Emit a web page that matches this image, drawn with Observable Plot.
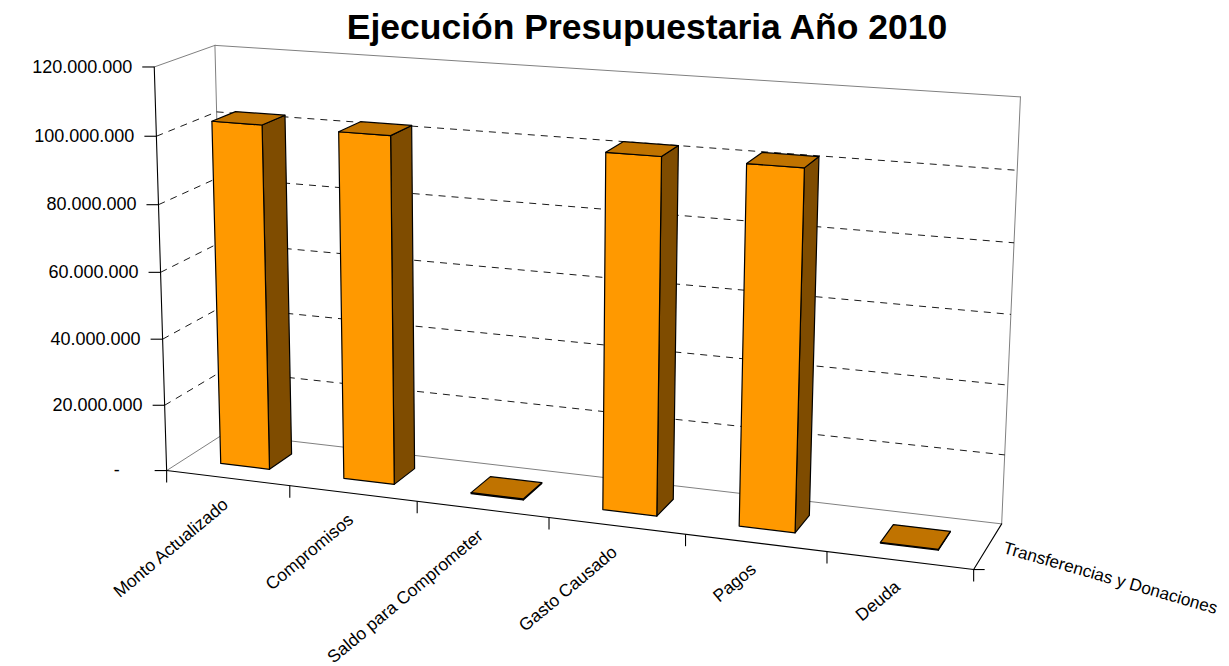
<!DOCTYPE html>
<html>
<head>
<meta charset="utf-8">
<script src="https://cdn.jsdelivr.net/npm/d3@7"></script>
<script src="https://cdn.jsdelivr.net/npm/@observablehq/plot@0.6"></script>
<style>
  body { margin: 0; background: #fff; }
  #chart svg { display: block; }
</style>
</head>
<body>
<div id="chart"></div>
<script>
// ---------------- data ----------------
const title = "Ejecución Presupuestaria Año 2010";
const seriesName = "Transferencias y Donaciones";
const categories = ["Monto Actualizado", "Compromisos", "Saldo para Comprometer", "Gasto Causado", "Pagos", "Deuda"];
const values = [103000000, 102700000, 300000, 102500000, 102300000, 200000];
const yTicks = [0, 20000000, 40000000, 60000000, 80000000, 100000000, 120000000];
const yTickLabels = ["-", "20.000.000", "40.000.000", "60.000.000", "80.000.000", "100.000.000", "120.000.000"];

// ---------------- scales (normalised box coordinates) ----------------
const xScale = Plot.scale({x: {type: "band", domain: categories, range: [0, 1], paddingInner: 0.6, paddingOuter: 0.3, align: 0.5}});
const yScale = Plot.scale({y: {type: "linear", domain: [0, 120000000], range: [0, 1]}});
const step = 1 / categories.length;
const depthRange = [0.3, 0.7]; // bar depth inside the series row

// ---------------- 3D perspective projection of the box ----------------
// calibration: box point (u, v, w) -> screen position of the chart frame
const calib = [
  [0, 0, 0, 168, 468], [1, 0, 0, 972, 572], [0, 0, 1, 221, 437], [1, 0, 1, 1002, 518],
  [0, 1, 0, 152, 67], [0, 1, 1, 217, 45], [1, 1, 1, 1020, 97],
  [1/6, 0, 0, 291, 484], [2/6, 0, 0, 416, 500], [3/6, 0, 0, 548, 517], [4/6, 0, 0, 685, 535], [5/6, 0, 0, 827, 553],
  [0, 1/6, 0, 165, 405], [0, 2/6, 0, 163, 338], [0, 3/6, 0, 160, 271], [0, 4/6, 0, 157, 203], [0, 5/6, 0, 155, 136]
];
const NX = 600, NY = 330, NS = 500;
function fitProjective(pts) {
  const n = 11;
  const M = Array.from({length: n}, () => new Array(n + 1).fill(0));
  const add = (row, b) => {
    for (let i = 0; i < n; i++) {
      for (let j = 0; j < n; j++) M[i][j] += row[i] * row[j];
      M[i][n] += row[i] * b;
    }
  };
  for (const [u, v, w, X0, Y0] of pts) {
    const X = (X0 - NX) / NS, Y = (Y0 - NY) / NS;
    add([u, v, w, 1, 0, 0, 0, 0, -X * u, -X * v, -X * w], X);
    add([0, 0, 0, 0, u, v, w, 1, -Y * u, -Y * v, -Y * w], Y);
  }
  for (let c = 0; c < n; c++) {
    let piv = c;
    for (let r = c + 1; r < n; r++) if (Math.abs(M[r][c]) > Math.abs(M[piv][c])) piv = r;
    [M[c], M[piv]] = [M[piv], M[c]];
    for (let r = 0; r < n; r++) {
      if (r === c) continue;
      const f = M[r][c] / M[c][c];
      for (let k = c; k <= n; k++) M[r][k] -= f * M[c][k];
    }
  }
  return M.map((row, i) => row[n] / row[i]);
}
const P = fitProjective(calib);
function project3(u, v, w) {
  const d = P[8] * u + P[9] * v + P[10] * w + 1;
  return [
    ((P[0] * u + P[1] * v + P[2] * w + P[3]) / d) * NS + NX,
    ((P[4] * u + P[5] * v + P[6] * w + P[7]) / d) * NS + NY
  ];
}
const projection = d3.geoTransform({
  point(x, y, z) {
    const [X, Y] = project3(x, y, z === undefined ? 0 : z);
    this.stream.point(X, Y);
  }
});

// ---------------- geometry built from the data ----------------
const line = (a, b) => ({type: "LineString", coordinates: [a, b]});
const poly = (pts) => ({type: "Polygon", coordinates: [[...pts, pts[0]]]});

const wallLines = [
  line([0, 0, 0], [0, 0, 1]), line([0, 0, 1], [0, 1, 1]), line([0, 1, 0], [0, 1, 1]),
  line([0, 0, 1], [1, 0, 1]), line([0, 1, 1], [1, 1, 1]), line([1, 0, 1], [1, 1, 1])
];
const gridLines = yTicks.slice(1, -1).flatMap((t) => {
  const v = yScale.apply(t);
  return [line([0, v, 0], [0, v, 1]), line([0, v, 1], [1, v, 1])];
});
const axisLines = [line([0, 0, 0], [0, 1, 0]), line([0, 0, 0], [1, 0, 0]), line([1, 0, 0], [1, 0, 1])];

const [w0, w1] = depthRange;
const fronts = [], tops = [], sides = [];
categories.forEach((c, i) => {
  const u0 = xScale.apply(c), u1 = u0 + xScale.bandwidth, v = yScale.apply(values[i]);
  fronts.push(poly([[u0, 0, w0], [u1, 0, w0], [u1, v, w0], [u0, v, w0]]));
  sides.push(poly([[u1, 0, w0], [u1, 0, w1], [u1, v, w1], [u1, v, w0]]));
  tops.push(poly([[u0, v, w0], [u1, v, w0], [u1, v, w1], [u0, v, w1]]));
});

const catTicks = d3.range(categories.length + 1).map((i) => i * step);
const catCenters = categories.map((c) => ({label: c, u: xScale.apply(c) + xScale.bandwidth / 2}));
const yLab = yTicks.map((t, i) => ({v: yScale.apply(t), label: yTickLabels[i], zero: t === 0}));

// tick symbols
const tickLeft = {draw(ctx) { ctx.moveTo(-12, 0); ctx.lineTo(0, 0); }};
const tickDown = {draw(ctx) { ctx.moveTo(0, 0); ctx.lineTo(0, 12); }};
const tickRight = {draw(ctx) { ctx.moveTo(0, 0); ctx.lineTo(11, 0); }};

const font = "'Liberation Sans', Arial, sans-serif";

const chart = Plot.plot({
  width: 1229,
  height: 666,
  margin: 0,
  projection,
  x: {axis: null},
  y: {axis: null},
  style: {fontFamily: font, background: "#fff", color: "black"},
  marks: [
    Plot.geo(wallLines, {stroke: "#808080", strokeWidth: 1, fill: "none"}),
    Plot.geo(gridLines, {stroke: "black", strokeWidth: 0.9, strokeDasharray: "7,6", strokeLinecap: "butt", fill: "none"}),
    Plot.geo(sides, {fill: "#7F4C00", stroke: "black", strokeWidth: 1.2, strokeLinejoin: "round"}),
    Plot.geo(fronts, {fill: "#FF9900", stroke: "black", strokeWidth: 1.2, strokeLinejoin: "round"}),
    Plot.geo(tops, {fill: "#C07300", stroke: "black", strokeWidth: 1.2, strokeLinejoin: "round"}),
    Plot.geo(axisLines, {stroke: "black", strokeWidth: 1.1, fill: "none"}),
    Plot.dot(yLab, {x: () => 0, y: "v", symbol: tickLeft, stroke: "black", fill: "none", strokeWidth: 1.1}),
    Plot.dot(catTicks, {x: (d) => d, y: () => 0, symbol: tickDown, stroke: "black", fill: "none", strokeWidth: 1.1}),
    Plot.dot([0], {x: () => 1, y: () => 0, symbol: tickRight, stroke: "black", fill: "none", strokeWidth: 1.1}),
    Plot.text(yLab.filter((d) => !d.zero), {x: () => 0, y: "v", text: "label", textAnchor: "end", dx: -22, fontSize: 18, fill: "black"}),
    Plot.text(yLab.filter((d) => d.zero), {x: () => 0, y: "v", text: "label", textAnchor: "end", dx: -47, fontSize: 18, fill: "black"}),
    Plot.text(catCenters, {x: "u", y: () => 0, text: "label", textAnchor: "end", rotate: -40, dx: -2, dy: 24, fontSize: 17.5, fill: "black"}),
    Plot.text([seriesName], {x: () => 1, y: () => 0, text: (d) => d, textAnchor: "start", rotate: 16, dx: 30, dy: -22, fontSize: 17.2, fill: "black"}),
    Plot.text([title], {frameAnchor: "top", text: (d) => d, dx: 32, dy: 13, fontSize: 35.5, fontWeight: "bold", fill: "black"})
  ]
});
document.getElementById("chart").appendChild(chart);
</script>
</body>
</html>
